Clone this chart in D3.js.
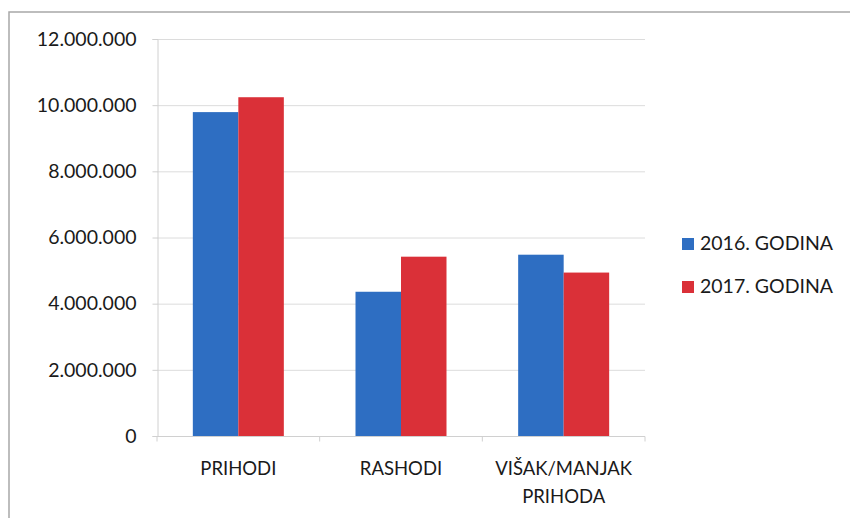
<!DOCTYPE html>
<html><head><meta charset="utf-8">
<script src="https://cdn.jsdelivr.net/npm/d3@7"></script>
<style>body{margin:0;background:#fff}svg{display:block}text{font-family:Lato,"Open Sans",sans-serif;fill:#1a1a1a}</style>
</head><body><svg id="c" width="850" height="518"></svg>
<script>
const categories = [["PRIHODI"],["RASHODI"],["VIŠAK/MANJAK","PRIHODA"]];
const seriesNames = ["2016. GODINA","2017. GODINA"];
const values2016 = [9790000, 4360000, 5480000];
const values2017 = [10240000, 5420000, 4940000];
const yTicks = [0,2000000,4000000,6000000,8000000,10000000,12000000];
const colors = ["#2e6ec2","#da3038"];

const svg = d3.select("#c");
// chart frame
svg.append("path").attr("d","M9,518 L9,12 L850,12").attr("fill","none").attr("stroke","#a8a8a8").attr("stroke-width",1.5);

const x0 = 157, x1 = 645, yTop = 39, yBot = 436;
const x = d3.scaleBand().domain(d3.range(categories.length)).range([x0,x1]).paddingInner(0).paddingOuter(0);
const y = d3.scaleLinear().domain([0,12000000]).range([yBot,yTop]);
const fmt = v => v===0 ? "0" : d3.format(",")(v).replace(/,/g,".");

// gridlines
svg.append("g").selectAll("line").data(yTicks.filter(d=>d>0)).join("line")
  .attr("x1",x0).attr("x2",x1).attr("y1",d=>y(d)+0.5).attr("y2",d=>y(d)+0.5)
  .attr("stroke","#dcdcdc").attr("stroke-width",1);

// y axis
const ya = svg.append("g").attr("transform",`translate(${x0+0.5},0)`)
  .call(d3.axisLeft(y).tickValues(yTicks).tickFormat(fmt).tickSize(5).tickPadding(16));
ya.select(".domain").attr("stroke","#d0d0d0");
ya.selectAll(".tick line").attr("stroke","#d0d0d0");
ya.selectAll("text").style("font-size","19.5px").attr("fill","#1a1a1a");

// x axis
const xa = svg.append("g").attr("transform",`translate(0,${yBot+0.5})`);
xa.append("line").attr("x1",x0).attr("x2",x1).attr("stroke","#d0d0d0");
xa.selectAll("line.t").data(d3.range(categories.length+1)).join("line").attr("class","t")
  .attr("x1",i=>i<categories.length?x(i):x1).attr("x2",i=>i<categories.length?x(i):x1)
  .attr("y1",0).attr("y2",5).attr("stroke","#d0d0d0");

const gw = 91;
const xs = d3.scaleBand().domain([0,1]).range([0,gw]);
const data = [values2016, values2017];
categories.forEach((c,i)=>{
  const gx = x(i) + (x.bandwidth()-gw)/2;
  data.forEach((vals,s)=>{
    svg.append("rect").attr("x",gx+xs(s)).attr("width",xs.bandwidth())
      .attr("y",y(vals[i])).attr("height",yBot-y(vals[i])).attr("fill",colors[s]);
  });
  const t = svg.append("text").attr("text-anchor","middle").style("font-size","18.5px");
  c.forEach((line,k)=>t.append("tspan").attr("x",x(i)+x.bandwidth()/2).attr("y",475+k*28).text(line));
});

// legend
seriesNames.forEach((n,s)=>{
  const ly = 250 + s*43;
  svg.append("rect").attr("x",682).attr("y",ly-12).attr("width",12).attr("height",12).attr("fill",colors[s]);
  svg.append("text").attr("x",700).attr("y",ly).style("font-size","19.5px").text(n);
});
</script></body></html>
